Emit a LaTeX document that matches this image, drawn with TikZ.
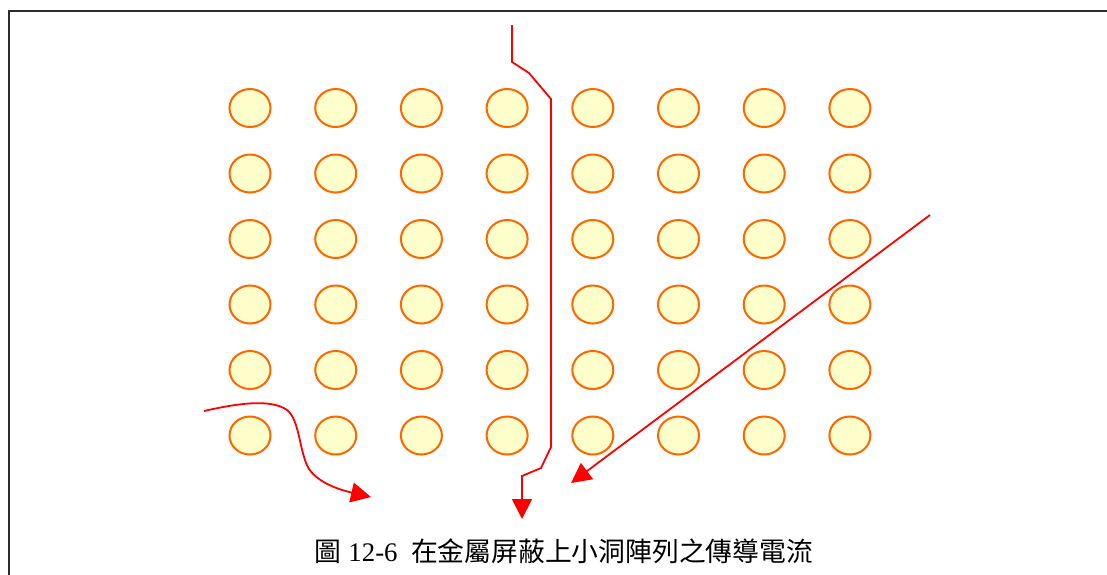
\documentclass[tikz,border=0pt]{standalone}
\usepackage{fontspec}
\setmainfont{Liberation Serif}
\newfontfamily\cjk{Noto Sans CJK TC}
\usepackage{tikz}
\usetikzlibrary{arrows.meta,shapes.geometric}
\definecolor{frameC}{HTML}{2B2B2B}
\definecolor{holeEdge}{HTML}{FF6600}
\definecolor{holeFill}{HTML}{FFFFCC}
\definecolor{flowC}{HTML}{FF0000}
\tikzset{>={Triangle[length=20pt,width=20pt]},
  hole/.style={ellipse,draw=holeEdge,fill=holeFill,line width=2pt,minimum width=41pt,
    minimum height=38pt,inner sep=0pt},
  flow/.style={->,flowC,line width=1.8pt,line join=miter},
  figcap/.style={font=\fontsize{26.8}{32}\selectfont,text=black,inner sep=0pt}}
\begin{document}
\begin{tikzpicture}[x=1pt,y=-1pt]
\useasboundingbox (0,0) rectangle (1107,574);
\draw[frameC,line width=2.2pt] (9,600) -- (9,11) -- (1130,11);
\foreach \r in {1,...,6}{\foreach \c in {1,...,8}{
  \node[hole] (h\r\c) at ({250+85.7*(\c-1)},{108+65.5*(\r-1)}) {};}}
\coordinate (vIn) at (512,25);\coordinate (vOut) at (522,519);
\coordinate (cIn) at (204,411);\coordinate (cOut) at (371,497);
\coordinate (dIn) at (930,215);\coordinate (dOut) at (571,483);
\draw[flow] (vIn) -- (512,62) -- (529,73) -- (551,99) -- (551,447) -- (541,468) -- (522,476) -- (vOut);
\draw[flow] (cIn) .. controls (235,404) and (270,398) .. (287,410)
  .. controls (300,420) and (299,452) .. (309,469) .. controls (320,485) and (345,491) .. (cOut);
\draw[flow] (dIn) -- (dOut);
\node[figcap] (caption) at (564,551) {{\cjk 圖} 12-6\ \ {\cjk 在金屬屏蔽上小洞陣列之傳導電流}};
\end{tikzpicture}
\end{document}
